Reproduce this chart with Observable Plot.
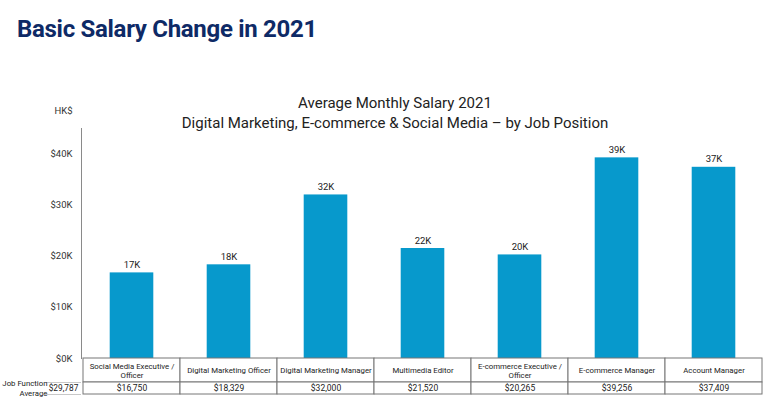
<!DOCTYPE html>
<html>
<head>
<meta charset="utf-8">
<script src="https://cdn.jsdelivr.net/npm/d3@7"></script>
<script src="https://cdn.jsdelivr.net/npm/@observablehq/plot@0.6"></script>
<style>
  body { margin: 0; background: #fff; font-family: Roboto, "Liberation Sans", sans-serif; }
  #wrap { position: relative; width: 778px; height: 406px; overflow: hidden; }
  #main-title { position: absolute; left: 17px; top: 15px; font-size: 24px; line-height: 28px; font-weight: 700; color: #0e2a66; white-space: nowrap; letter-spacing: -0.3px; }
  #chart-title { position: absolute; left: 0; width: 790px; top: 93px; text-align: center; font-size: 15px; line-height: 20px; color: #222; }
  #chart { position: absolute; left: 0; top: 0; }
</style>
</head>
<body>
<div id="wrap">
  <div id="chart"></div>
  <div id="main-title">Basic Salary Change in 2021</div>
  <div id="chart-title">Average Monthly Salary 2021<br>Digital Marketing, E-commerce &amp; Social Media – by Job Position</div>
</div>
<script>
const categories = [
  "Social Media Executive /\nOfficer",
  "Digital Marketing Officer",
  "Digital Marketing Manager",
  "Multimedia Editor",
  "E-commerce Executive /\nOfficer",
  "E-commerce Manager",
  "Account Manager"
];
const salaries = [16750, 18329, 32000, 21520, 20265, 39256, 37409];
const barLabels = ["17K", "18K", "32K", "22K", "20K", "39K", "37K"];
const yTicks = [0, 10000, 20000, 30000, 40000];
const jobFunctionLabel = ["Job Function", "Average"];
const jobFunctionAverage = 29787;

const rows = categories.map((c, i) => ({category: c, salary: salaries[i], label: barLabels[i], base: 0}));
const money = d3.format("$,");
const color = "#0799cc";
const lineColor = "#8a8a8a";

const chart = Plot.plot({
  width: 778,
  height: 406,
  marginLeft: 81,
  marginRight: 15,
  marginTop: 128,
  marginBottom: 48,
  style: {fontFamily: "Roboto, 'Liberation Sans', sans-serif", background: "transparent", color: "#222"},
  x: {domain: categories, padding: 0, axis: null},
  y: {domain: [0, 45000], axis: null},
  marks: [
    Plot.axisY({ticks: yTicks, tickSize: 0, tickPadding: 9, tickFormat: d => `$${d / 1000}K`, fontSize: 9.5, fill: "#333"}),
    Plot.frame({anchor: "left", stroke: lineColor}),
    Plot.text(["HK$"], {frameAnchor: "top-left", textAnchor: "end", lineAnchor: "middle", dx: -9, dy: -18, fontSize: 9.5, fill: "#333"}),
    Plot.barY(rows, {x: "category", y: "salary", fill: color, insetLeft: 26.7, insetRight: 26.7}),
    Plot.text(rows, {x: "category", y: "salary", text: "label", lineAnchor: "bottom", dy: -5, fontSize: 9.5, fill: "#222"}),
    // table row 1: job positions
    Plot.barY(rows, {x: "category", y1: "base", y2: "base", insetTop: 0, insetBottom: -24, fill: "white", stroke: "#777", strokeWidth: 1}),
    Plot.text(rows, {x: "category", y: "base", text: "category", dy: 12, fontSize: 7.8, lineHeight: 1.15, fill: "#222"}),
    // table row 2: salaries
    Plot.barY(rows, {x: "category", y1: "base", y2: "base", insetTop: 24, insetBottom: -36, fill: "white", stroke: "#777", strokeWidth: 1}),
    Plot.text(rows, {x: "category", y: "base", text: d => money(d.salary), dy: 30, fontSize: 8.5, fill: "#222"}),
    // job function average cell
    Plot.ruleY([0], {dy: 24, insetLeft: -36, insetRight: 682, stroke: "#c8c8c8"}),
    Plot.ruleY([0], {dy: 36, insetLeft: -36, insetRight: 682, stroke: "#c8c8c8"}),
    Plot.text([money(jobFunctionAverage)], {frameAnchor: "bottom-left", textAnchor: "middle", lineAnchor: "middle", dx: -18, dy: 30, fontSize: 8.3, fill: "#222"}),
    Plot.text([jobFunctionLabel[0]], {frameAnchor: "bottom-left", textAnchor: "end", lineAnchor: "middle", dx: -34, dy: 25, fontSize: 7.8, fill: "#222"}),
    Plot.text([jobFunctionLabel[1]], {frameAnchor: "bottom-left", textAnchor: "end", lineAnchor: "middle", dx: -34, dy: 35, fontSize: 7.8, fill: "#222"})
  ]
});
document.getElementById("chart").appendChild(chart);
</script>
</body>
</html>
